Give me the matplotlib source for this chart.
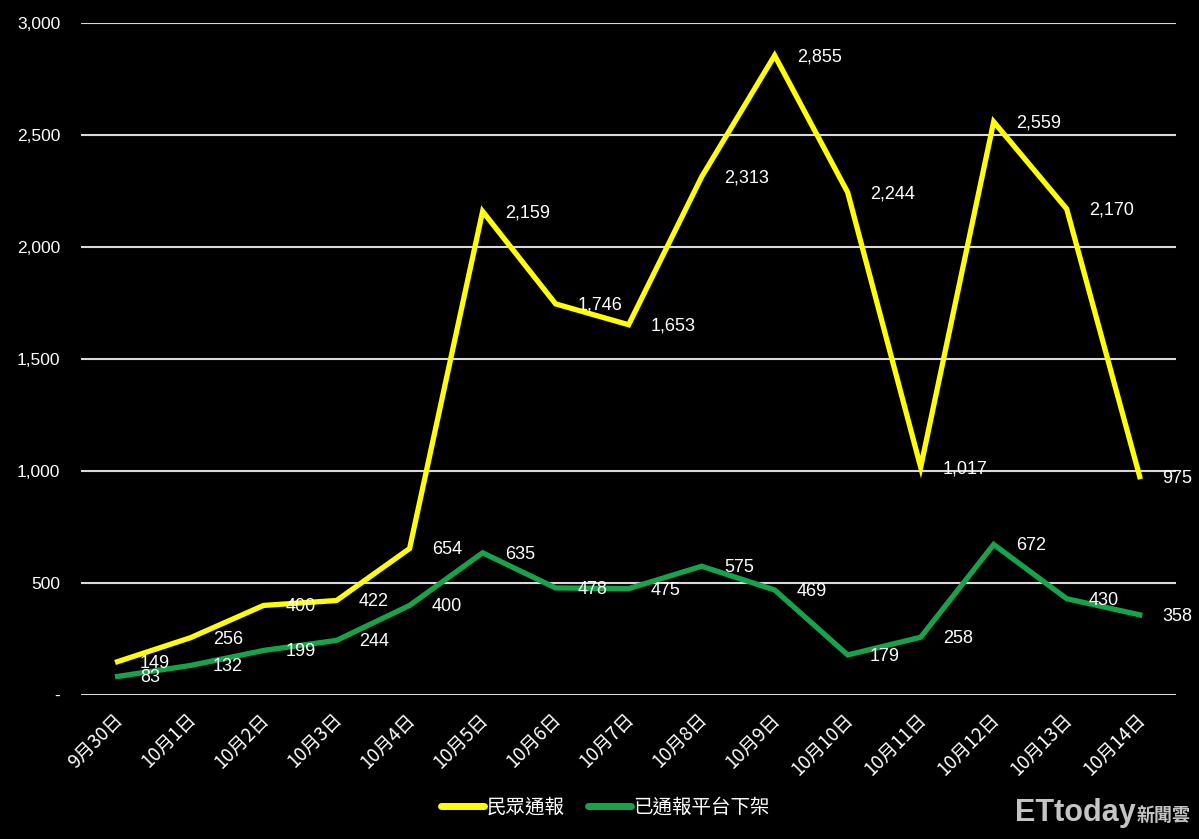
import matplotlib
matplotlib.use("Agg")
import matplotlib.pyplot as plt
from matplotlib.ticker import FuncFormatter
from matplotlib.transforms import ScaledTranslation

dates = ["9月30日", "10月1日", "10月2日", "10月3日", "10月4日", "10月5日", "10月6日",
         "10月7日", "10月8日", "10月9日", "10月10日", "10月11日", "10月12日", "10月13日", "10月14日"]
public_reports = [149, 256, 400, 422, 654, 2159, 1746, 1653, 2313, 2855, 2244, 1017, 2559, 2170, 975]
taken_down = [83, 132, 199, 244, 400, 635, 478, 475, 575, 469, 179, 258, 672, 430, 358]
series_names = ["民眾通報", "已通報平台下架"]

plt.rcParams["font.family"] = ["Liberation Sans", "Noto Sans CJK TC", "DejaVu Sans"]
cjk = ["Noto Sans CJK TC", "DejaVu Sans"]

fig = plt.figure(figsize=(11.99, 8.39), dpi=100, facecolor="black")
ax = fig.add_axes([0.0676, 0.1716, 0.9134, 0.801], facecolor="black")

x = range(len(dates))
ax.plot(x, public_reports, color="#ffff00", lw=3.8, label=series_names[0], solid_joinstyle="miter")
ax.plot(x, taken_down, color="#17a34a", lw=3.8, label=series_names[1], solid_joinstyle="miter")

for series in (public_reports, taken_down):
    for xi, v in zip(x, series):
        ax.annotate(f"{v:,}", (xi, v), xytext=(16, -1), textcoords="offset points",
                    color="white", fontsize=13, va="center", ha="left")

ax.set_xlim(-0.5, len(dates) - 0.5)
ax.set_ylim(0, 3000)
ax.set_yticks(range(0, 3001, 500))
ax.yaxis.set_major_formatter(FuncFormatter(lambda v, _: "-" if v == 0 else f"{int(v):,}"))
ax.grid(axis="y", color="#d9d9d9", lw=1.5)
ax.set_axisbelow(True)
for s in ax.spines.values():
    s.set_visible(False)
ax.tick_params(axis="both", length=0, colors="white")
ax.tick_params(axis="y", pad=15, labelsize=12.5)
ax.set_xticks(list(x))
ax.set_xticklabels(dates, rotation=45, ha="right", rotation_mode="anchor", family=cjk, fontsize=13.5)
ax.tick_params(axis="x", pad=10)
shift = ScaledTranslation(-5 / 100, 0, fig.dpi_scale_trans)
for lab in ax.get_xticklabels():
    lab.set_transform(lab.get_transform() + shift)

leg = fig.legend(loc="center", bbox_to_anchor=(0.505, 0.038), ncol=2, frameon=False,
                 handlelength=2.2, columnspacing=1.2, handletextpad=0.15,
                 prop={"family": cjk, "size": 14})
for t in leg.get_texts():
    t.set_color("white")
for line in leg.get_lines():
    line.set_linewidth(5)
    line.set_solid_capstyle("round")

fig.text(0.8466, 0.021, "ETtoday", color="#c4c4c4", fontsize=22, fontweight="bold", ha="left", va="baseline")
fig.text(0.9475, 0.021, "新聞雲", color="#c4c4c4", fontsize=13, fontweight="bold", ha="left", va="baseline", family=cjk)

fig.savefig("out.png", dpi=100, facecolor="black")
